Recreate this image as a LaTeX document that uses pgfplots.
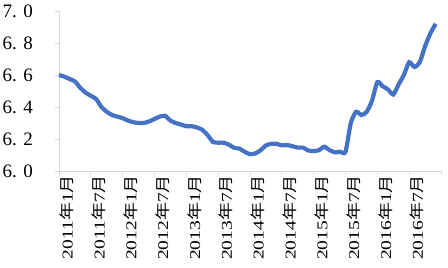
\documentclass[border=0pt]{standalone}
\usepackage{fontspec}
\setmainfont{Liberation Serif}
\newfontfamily\cjk[FakeStretch=1.2]{Noto Sans CJK SC}
\newfontfamily\labfont[FakeStretch=1.3]{Liberation Serif}
\usepackage{pgfplots}
\pgfplotsset{compat=1.18}
\definecolor{lineblue}{RGB}{68,114,196}
\definecolor{axgray}{RGB}{217,217,217}
\newcommand{\ym}[2]{#1{\cjk 年}#2{\cjk 月}}
\begin{document}
\fontsize{17pt}{20pt}\selectfont
\begin{tikzpicture}
\begin{axis}[
  scale only axis,
  width=382pt, height=160pt,
  xmin=0, xmax=72, ymin=6.0, ymax=7.0,
  axis x line*=bottom, axis y line*=left,
  axis line style={axgray, line width=0.8pt},
  every tick/.style={axgray, line width=0.8pt},
  tick align=outside,
  major tick length=4pt,
  xtick={0,6,...,72},
  xticklabels={\ym{2011}{1},\ym{2011}{7},\ym{2012}{1},\ym{2012}{7},\ym{2013}{1},\ym{2013}{7},\ym{2014}{1},\ym{2014}{7},\ym{2015}{1},\ym{2015}{7},\ym{2016}{1},\ym{2016}{7},{}},
  ytick={6.0,6.2,...,7.0},
  yticklabels={6. 0,6. 2,6. 4,6. 6,6. 8,7. 0},
  xticklabel style={rotate=90, anchor=east, font=\labfont\fontsize{15pt}{17pt}\selectfont, inner sep=0pt, yshift=-8pt},
  yticklabel style={anchor=east, font=\fontsize{19pt}{22pt}\selectfont, inner sep=0pt, xshift=-22pt},
  clip=false,
]
\addplot[lineblue, line width=4.2pt, smooth, tension=0.4] coordinates {
(0,6.600)(1,6.590)(2,6.575)(3,6.560)(4,6.520)(5,6.490)(6,6.470)(7,6.450)(8,6.400)(9,6.370)(10,6.350)(11,6.340)
(12,6.330)(13,6.315)(14,6.305)(15,6.300)(16,6.300)(17,6.310)(18,6.325)(19,6.340)(20,6.345)(21,6.315)(22,6.300)(23,6.290)
(24,6.280)(25,6.280)(26,6.272)(27,6.258)(28,6.225)(29,6.182)(30,6.177)(31,6.177)(32,6.165)(33,6.145)(34,6.140)(35,6.120)
(36,6.105)(37,6.110)(38,6.130)(39,6.160)(40,6.170)(41,6.170)(42,6.160)(43,6.162)(44,6.155)(45,6.146)(46,6.146)(47,6.128)
(48,6.125)(49,6.130)(50,6.152)(51,6.130)(52,6.117)(53,6.120)(54,6.120)(55,6.300)(56,6.370)(57,6.350)(58,6.370)(59,6.440)
(60,6.555)(61,6.530)(62,6.510)(63,6.478)(64,6.540)(65,6.600)(66,6.680)(67,6.650)(68,6.680)(69,6.780)(70,6.860)(71,6.920)
};
\coordinate (ll) at (rel axis cs:0,0);
\coordinate (ur) at (rel axis cs:1,1);
\end{axis}
\pgfresetboundingbox
\path ([shift={(-59pt,-96pt)}]ll) rectangle ([shift={(7pt,11pt)}]ur);
\end{tikzpicture}
\end{document}
